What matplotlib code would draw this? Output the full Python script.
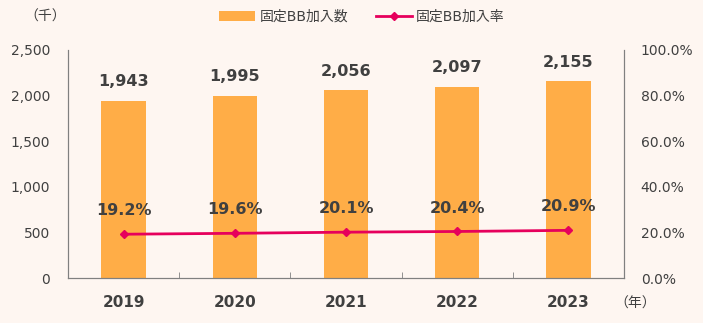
import matplotlib.pyplot as plt
from matplotlib.ticker import FuncFormatter

plt.rcParams['font.family'] = ['DejaVu Sans', 'Noto Sans CJK JP']

years = ['2019', '2020', '2021', '2022', '2023']
subscribers = [1943, 1995, 2056, 2097, 2155]
rate = [19.2, 19.6, 20.1, 20.4, 20.9]

bg = '#FEF6F1'
bar_color = '#FFAD47'
line_color = '#E6005C'
text_color = '#404040'
spine_color = '#808080'

fig = plt.figure(figsize=(7.03, 3.23), dpi=100, facecolor=bg)
ax = fig.add_axes([68 / 703, 1 - 278 / 323, (624 - 68) / 703, (278 - 50) / 323])
ax.set_facecolor(bg)
ax2 = ax.twinx()

x = range(len(years))
bars = ax.bar(x, subscribers, width=0.4, color=bar_color, label='固定BB加入数', zorder=2)
ax.set_xlim(-0.5, len(years) - 0.5)
ax.set_ylim(0, 2500)
ax.set_yticks(range(0, 2501, 500))
ax.yaxis.set_major_formatter(FuncFormatter(lambda v, p: f'{int(v):,}'))
ax.set_xticks(list(x))
ax.set_xticklabels(years, fontsize=11, fontweight='bold', color=text_color)
ax.set_xticks([i + 0.5 for i in range(len(years) - 1)], minor=True)
ax.tick_params(axis='x', which='major', length=0, pad=12)
ax.tick_params(axis='x', which='minor', length=4, color=spine_color, direction='in')
ax.tick_params(axis='y', length=0, labelsize=10, labelcolor=text_color, pad=13)

for xi, v in zip(x, subscribers):
    ax.text(xi, v + 130, f'{v:,}', ha='center', va='bottom', fontsize=11.5,
            fontweight='bold', color=text_color)

line, = ax2.plot(list(x), rate, color=line_color, lw=2, marker='D', ms=4,
                 label='固定BB加入率', zorder=3)
ax2.set_ylim(0, 100)
ax2.set_yticks(range(0, 101, 20))
ax2.yaxis.set_major_formatter(FuncFormatter(lambda v, p: f'{v:.1f}%'))
ax2.tick_params(axis='y', length=0, labelsize=10, labelcolor=text_color, pad=12)
for xi, r in zip(x, rate):
    ax2.text(xi, r + 7, f'{r:.1f}%', ha='center', va='bottom', fontsize=11.5,
             fontweight='bold', color=text_color)

for a in (ax, ax2):
    for s in a.spines.values():
        s.set_color(spine_color)
    a.spines['top'].set_visible(False)

fig.text(45 / 703, 1 - 17 / 323, '（千）', ha='center', va='center', fontsize=10,
         color=text_color, family='Noto Sans CJK JP')
fig.text(635 / 703, 1 - 304 / 323, '（年）', ha='center', va='center', fontsize=10,
         color=text_color, family='Noto Sans CJK JP')

fig.legend([bars, line], ['固定BB加入数', '固定BB加入率'], loc='center',
           bbox_to_anchor=(362 / 703, 1 - 17 / 323), ncol=2, frameon=False,
           fontsize=10, handlelength=2.6, handletextpad=0.3, columnspacing=2.0,
           labelcolor=text_color)

fig.savefig('out.png', dpi=100, facecolor=bg)
